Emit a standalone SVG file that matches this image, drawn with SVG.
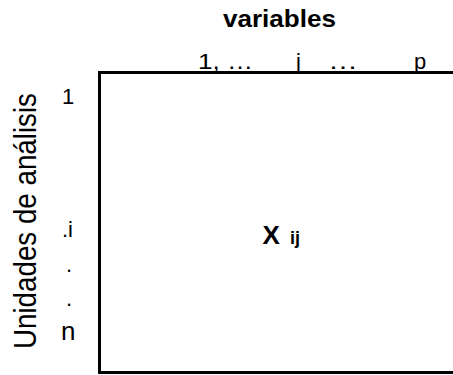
<svg xmlns="http://www.w3.org/2000/svg" width="453" height="375" viewBox="0 0 453 375">
<style>
text{font-family:"Liberation Sans",Arial,sans-serif;fill:#000}
.b{font-weight:bold}
.frame{fill:none;stroke:#000;stroke-width:3}
.col{font-size:22px}
</style>
<rect width="453" height="375" fill="#fff"/>
<g id="matrix">
<path class="frame" d="M453 72.5H99.5V372.5H453"/>
<text class="b" x="262.5" y="244" font-size="26">X</text>
<text class="b" x="290" y="244" font-size="18">ij</text>
</g>
<g id="columns">
<text class="b" x="223" y="27" font-size="24" textLength="113" lengthAdjust="spacingAndGlyphs">variables</text>
<text class="col" x="198" y="69" textLength="55" lengthAdjust="spacingAndGlyphs">1, …</text>
<text class="col" x="296" y="69">j</text>
<text class="col" x="328" y="69" textLength="30" lengthAdjust="spacingAndGlyphs">…</text>
<text class="col" x="414" y="69">p</text>
</g>
<g id="rows">
<text transform="translate(36 349) rotate(-90)" x="0" y="0" font-size="31" textLength="256" lengthAdjust="spacingAndGlyphs">Unidades de análisis</text>
<text x="62" y="104" font-size="22">1</text>
<text x="62" y="237" font-size="22">.i</text>
<text x="66" y="272" font-size="22">.</text>
<text x="66" y="306" font-size="22">.</text>
<text x="61" y="340" font-size="26">n</text>
</g>
</svg>
